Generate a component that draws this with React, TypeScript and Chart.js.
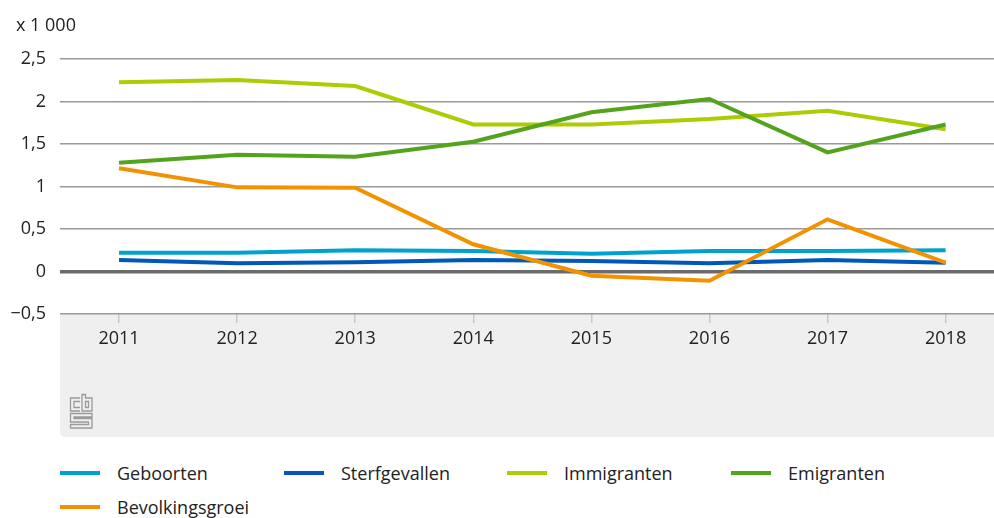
import React, { useEffect, useRef } from "react";
import { Chart, registerables } from "chart.js";

Chart.register(...registerables);

const years = [2011, 2012, 2013, 2014, 2015, 2016, 2017, 2018];
const geboorten = [0.22, 0.22, 0.25, 0.24, 0.21, 0.24, 0.24, 0.25];
const sterfgevallen = [0.135, 0.096, 0.108, 0.135, 0.124, 0.096, 0.135, 0.104];
const immigranten = [2.226, 2.253, 2.182, 1.73, 1.73, 1.794, 1.892, 1.673];
const emigranten = [1.28, 1.374, 1.35, 1.527, 1.873, 2.03, 1.402, 1.73];
const bevolkingsgroei = [1.214, 0.99, 0.985, 0.32, -0.05, -0.108, 0.614, 0.104];
const yTicks = [-0.5, 0, 0.5, 1, 1.5, 2, 2.5];

const seriesNames = ["Geboorten", "Sterfgevallen", "Immigranten", "Emigranten", "Bevolkingsgroei"];
const seriesValues = [geboorten, sterfgevallen, immigranten, emigranten, bevolkingsgroei];
const seriesColors = ["#00a1cd", "#0058b8", "#afcb05", "#53a31d", "#f39200"];

const FONT = "'Open Sans', 'Noto Sans', sans-serif";

const fmt = (v: number) => {
  const s = String(Math.abs(v)).replace(".", ",");
  return v < 0 ? "\u2212" + s : s;
};

const bandPlugin = {
  id: "band",
  beforeDraw(chart: any) {
    const { ctx, chartArea } = chart;
    const x0 = chartArea.left;
    const x1 = chart.width;
    const y0 = chartArea.bottom;
    const y1 = chartArea.bottom + 123;
    const r = 6;
    ctx.save();
    ctx.fillStyle = "#efefef";
    ctx.beginPath();
    ctx.moveTo(x0, y0);
    ctx.lineTo(x1, y0);
    ctx.lineTo(x1, y1);
    ctx.lineTo(x0 + r, y1);
    ctx.quadraticCurveTo(x0, y1, x0, y1 - r);
    ctx.closePath();
    ctx.fill();
    // logo
    const lx = x0 + 10;
    const ly = y0 + 80;
    ctx.strokeStyle = "#9a9a9a";
    ctx.lineWidth = 1.3;
    ctx.beginPath();
    // c
    ctx.moveTo(lx + 10, ly + 4);
    ctx.lineTo(lx + 0.5, ly + 4);
    ctx.lineTo(lx + 0.5, ly + 17);
    ctx.lineTo(lx + 10, ly + 17);
    ctx.moveTo(lx + 10, ly + 7.5);
    ctx.lineTo(lx + 4, ly + 7.5);
    ctx.lineTo(lx + 4, ly + 13.5);
    ctx.lineTo(lx + 10, ly + 13.5);
    // b
    ctx.moveTo(lx + 12, ly + 0.5);
    ctx.lineTo(lx + 12, ly + 17);
    ctx.lineTo(lx + 22, ly + 17);
    ctx.lineTo(lx + 22, ly + 4);
    ctx.lineTo(lx + 15.5, ly + 4);
    ctx.lineTo(lx + 15.5, ly + 0.5);
    ctx.closePath();
    ctx.rect(lx + 15.5, ly + 7.5, 3, 6);
    // s
    ctx.moveTo(lx + 22, ly + 19.5);
    ctx.lineTo(lx + 0.5, ly + 19.5);
    ctx.lineTo(lx + 0.5, ly + 28);
    ctx.lineTo(lx + 18.5, ly + 28);
    ctx.lineTo(lx + 18.5, ly + 30.5);
    ctx.lineTo(lx + 0.5, ly + 30.5);
    ctx.lineTo(lx + 0.5, ly + 34);
    ctx.lineTo(lx + 22, ly + 34);
    ctx.lineTo(lx + 22, ly + 24.5);
    ctx.lineTo(lx + 4, ly + 24.5);
    ctx.lineTo(lx + 4, ly + 23);
    ctx.lineTo(lx + 22, ly + 23);
    ctx.closePath();
    ctx.stroke();
    ctx.restore();
  },
};

export default function App() {
  const ref = useRef<HTMLCanvasElement | null>(null);

  useEffect(() => {
    if (!ref.current) return;
    const chart = new Chart(ref.current, {
      type: "line",
      data: {
        datasets: seriesNames.map((name, i) => ({
          label: name,
          data: years.map((y, j) => ({ x: y, y: seriesValues[i][j] })),
          borderColor: seriesColors[i],
          backgroundColor: seriesColors[i],
          borderWidth: 4,
          pointRadius: 0,
          tension: 0,
          order: seriesNames.length - i,
        })),
      },
      options: {
        animation: false,
        responsive: false,
        devicePixelRatio: 1,
        layout: { padding: { top: 59, right: 0, left: 0, bottom: 0 } },
        plugins: { legend: { display: false }, tooltip: { enabled: false } },
        scales: {
          x: {
            type: "linear",
            min: 2010.5,
            max: 2018.41,
            afterBuildTicks: (scale: any) => {
              scale.ticks = years.map((v) => ({ value: v }));
            },
            afterFit: (scale: any) => {
              scale.height = 131;
            },
            border: { display: false },
            grid: {
              drawOnChartArea: false,
              drawTicks: true,
              tickLength: 9,
              color: "#c8c8c8",
              lineWidth: 1.5,
            },
            ticks: {
              callback: (v: any) => String(v),
              color: "#222",
              font: { family: FONT, size: 18 },
              padding: 5,
              maxRotation: 0,
            },
          },
          y: {
            min: -0.5,
            max: 2.5,
            afterBuildTicks: (scale: any) => {
              scale.ticks = yTicks.map((v) => ({ value: v }));
            },
            afterFit: (scale: any) => {
              scale.width = 60;
            },
            border: { display: false },
            grid: {
              drawTicks: false,
              color: (c: any) => (c.tick && c.tick.value === 0 ? "#6b6b6b" : "#9a9a9a"),
              lineWidth: (c: any) => (c.tick && c.tick.value === 0 ? 3.5 : 1.5),
            },
            ticks: {
              callback: (v: any) => fmt(Number(v)),
              color: "#222",
              font: { family: FONT, size: 18 },
              padding: 14,
            },
          },
        },
      },
      plugins: [bandPlugin],
    } as any);
    return () => chart.destroy();
  }, []);

  const legendCols = [60, 284, 507, 731];

  return (
    <div style={{ position: "absolute", left: 0, top: 0, width: 994, height: 518, background: "#fff", fontFamily: FONT }}>
      <canvas ref={ref} width={994} height={445} style={{ display: "block", width: 994, height: 445 }} />
      <div style={{ position: "absolute", left: 16, top: 12, fontSize: 18, color: "#222", whiteSpace: "nowrap" }}>
        x 1 000
      </div>
      {seriesNames.map((name, i) => {
        const row = Math.floor(i / 4);
        const col = i % 4;
        const cy = 473 + row * 34;
        return (
          <div key={name} style={{ position: "absolute", left: legendCols[col], top: cy - 13, height: 26, display: "flex", alignItems: "center", whiteSpace: "nowrap" }}>
            <span style={{ display: "inline-block", width: 40, height: 4, background: seriesColors[i], marginRight: 17 }} />
            <span style={{ fontSize: 18, color: "#222" }}>{name}</span>
          </div>
        );
      })}
    </div>
  );
}
